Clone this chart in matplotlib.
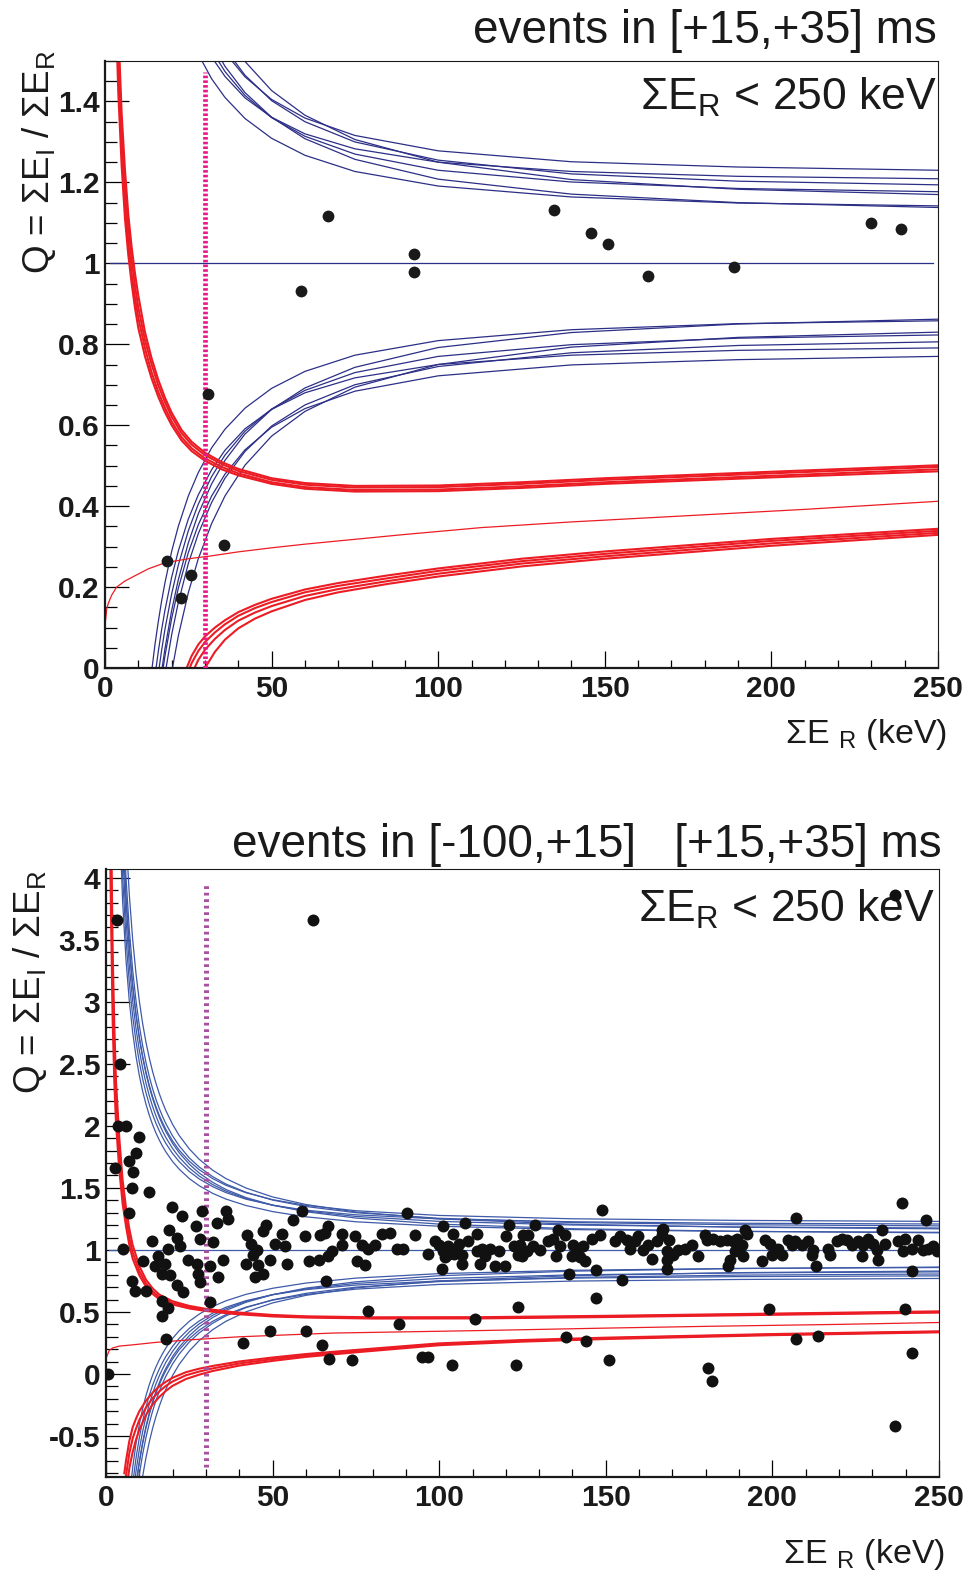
import matplotlib
matplotlib.use('Agg')
import matplotlib.pyplot as plt
from matplotlib.ticker import MultipleLocator, FuncFormatter

plt.rcParams['font.family'] = ['Liberation Sans', 'DejaVu Sans']
plt.rcParams['mathtext.fontset'] = 'custom'
plt.rcParams['mathtext.rm'] = 'Liberation Sans'
plt.rcParams['mathtext.it'] = 'Liberation Sans:italic'
plt.rcParams['mathtext.bf'] = 'Liberation Sans:bold'
plt.rcParams['axes.unicode_minus'] = False

# ---- gamma band half-widths around Q = 1 (one list per detector) ----
blue_e = [4, 5, 6, 7, 8, 9, 10, 11, 12, 13, 14, 15, 16, 17, 18, 20, 22, 25, 28,
          32, 36, 42, 50, 60, 75, 100, 140, 190, 250]
blue_dev = [
    [3.502, 2.803, 2.337, 2.004, 1.755, 1.561, 1.406, 1.279, 1.174, 1.085, 1.008, 0.942, 0.885, 0.834, 0.789,
     0.712, 0.650, 0.575, 0.517, 0.456, 0.410, 0.358, 0.309, 0.267, 0.227, 0.191, 0.164, 0.149, 0.142],
    [5.002, 4.003, 3.337, 2.861, 2.504, 2.227, 2.006, 1.824, 1.673, 1.546, 1.436, 1.342, 1.259, 1.186, 1.121,
     1.011, 0.921, 0.814, 0.730, 0.643, 0.575, 0.499, 0.427, 0.366, 0.306, 0.250, 0.207, 0.183, 0.170],
    [4.003, 3.204, 2.672, 2.292, 2.007, 1.785, 1.608, 1.464, 1.344, 1.242, 1.155, 1.079, 1.014, 0.956, 0.904,
     0.817, 0.746, 0.661, 0.595, 0.527, 0.474, 0.415, 0.360, 0.314, 0.270, 0.230, 0.201, 0.185, 0.177],
    [4.504, 3.604, 3.005, 2.578, 2.257, 2.008, 1.809, 1.646, 1.511, 1.396, 1.298, 1.213, 1.139, 1.074, 1.016,
     0.918, 0.838, 0.742, 0.668, 0.591, 0.531, 0.465, 0.402, 0.350, 0.300, 0.255, 0.221, 0.203, 0.194],
    [3.755, 3.007, 2.508, 2.152, 1.886, 1.679, 1.513, 1.378, 1.266, 1.171, 1.090, 1.020, 0.959, 0.905, 0.857,
     0.776, 0.711, 0.632, 0.572, 0.510, 0.462, 0.409, 0.361, 0.320, 0.283, 0.250, 0.227, 0.215, 0.209],
    [4.256, 3.407, 2.842, 2.439, 2.136, 1.902, 1.714, 1.561, 1.434, 1.326, 1.234, 1.154, 1.085, 1.024, 0.970,
     0.878, 0.803, 0.715, 0.646, 0.575, 0.521, 0.461, 0.405, 0.359, 0.316, 0.278, 0.251, 0.238, 0.230],
    [4.252, 3.402, 2.836, 2.432, 2.128, 1.893, 1.704, 1.550, 1.422, 1.313, 1.220, 1.140, 1.069, 1.007, 0.952,
     0.858, 0.782, 0.691, 0.619, 0.545, 0.487, 0.422, 0.361, 0.308, 0.257, 0.208, 0.171, 0.150, 0.138],
]

# ---- nuclear recoil band, top panel ----
top_nr_up_e = [3.5, 4, 5, 6, 7, 8, 9, 10, 12, 14, 16, 18, 20, 23, 26, 30, 35, 40, 50, 60, 75, 100, 125, 150, 200, 250]
top_nr_up = [
    [1.55, 1.42, 1.24, 1.11, 1.02, 0.95, 0.89, 0.84, 0.77, 0.715, 0.67, 0.632, 0.60, 0.562, 0.536, 0.512,
     0.491, 0.476, 0.455, 0.443, 0.436, 0.437, 0.445, 0.455, 0.471, 0.486],
    [1.62, 1.48, 1.29, 1.15, 1.05, 0.975, 0.915, 0.865, 0.79, 0.73, 0.682, 0.643, 0.609, 0.570, 0.543, 0.518,
     0.497, 0.481, 0.459, 0.447, 0.440, 0.441, 0.449, 0.459, 0.475, 0.491],
    [1.68, 1.53, 1.33, 1.19, 1.09, 1.01, 0.945, 0.89, 0.81, 0.75, 0.698, 0.657, 0.621, 0.580, 0.552, 0.526,
     0.504, 0.487, 0.465, 0.453, 0.446, 0.447, 0.455, 0.465, 0.481, 0.497],
    [1.74, 1.58, 1.37, 1.23, 1.12, 1.04, 0.975, 0.92, 0.83, 0.765, 0.712, 0.668, 0.631, 0.588, 0.559, 0.532,
     0.509, 0.492, 0.469, 0.457, 0.450, 0.451, 0.459, 0.469, 0.485, 0.501],
]
top_nr_low_e = [24, 26, 28, 30, 33, 36, 40, 45, 50, 60, 70, 85, 100, 125, 150, 200, 250]
top_nr_low = [
    [-0.01, 0.03, 0.058, 0.078, 0.10, 0.118, 0.138, 0.156, 0.171, 0.194, 0.21, 0.229, 0.246, 0.27, 0.288, 0.319, 0.344],
    [-0.03, 0.012, 0.042, 0.064, 0.088, 0.108, 0.129, 0.148, 0.163, 0.187, 0.203, 0.222, 0.24, 0.264, 0.282, 0.314, 0.339],
    [-0.06, -0.015, 0.02, 0.045, 0.072, 0.094, 0.117, 0.137, 0.153, 0.178, 0.195, 0.215, 0.233, 0.258, 0.276, 0.308, 0.334],
    [-0.12, -0.07, -0.03, 0.0, 0.04, 0.07, 0.098, 0.122, 0.14, 0.168, 0.187, 0.208, 0.226, 0.251, 0.27, 0.302, 0.329],
]
top_nr_mid_e = [0.2, 0.5, 1, 2, 3.5, 6, 9, 13, 18, 25, 31, 40, 50, 60, 75, 90, 113, 140, 165, 183, 210, 250]
top_nr_mid = [0.12, 0.145, 0.16, 0.18, 0.2, 0.215, 0.228, 0.245, 0.26, 0.27, 0.276, 0.287, 0.297, 0.306,
              0.318, 0.330, 0.347, 0.361, 0.372, 0.380, 0.392, 0.412]

# ---- nuclear recoil band, bottom panel ----
bot_nr_up_e = [1.2, 1.5, 2, 2.5, 3, 4, 5, 6, 7, 8, 10, 12, 14, 16, 20, 25, 30, 38, 50, 60, 80, 112, 150, 200, 250]
bot_nr_up = [
    [4.3, 3.7, 2.85, 2.35, 2.02, 1.64, 1.37, 1.19, 1.04, 0.93, 0.795, 0.705, 0.645, 0.603, 0.56, 0.528,
     0.508, 0.485, 0.464, 0.455, 0.447, 0.448, 0.459, 0.477, 0.495],
    [4.8, 4.1, 3.1, 2.55, 2.18, 1.76, 1.46, 1.26, 1.10, 0.98, 0.83, 0.73, 0.665, 0.62, 0.572, 0.538,
     0.516, 0.492, 0.47, 0.46, 0.452, 0.453, 0.464, 0.482, 0.50],
    [5.3, 4.5, 3.4, 2.8, 2.36, 1.9, 1.56, 1.34, 1.17, 1.04, 0.87, 0.76, 0.69, 0.64, 0.586, 0.549,
     0.525, 0.499, 0.476, 0.465, 0.457, 0.458, 0.469, 0.487, 0.505],
]
bot_nr_low_e = [5.5, 6, 7, 8, 9, 10, 12, 14, 16, 18, 20, 24, 28, 32, 40, 50, 60, 75, 100, 125, 150, 200, 250]
bot_nr_low = [
    [-0.80, -0.70, -0.54, -0.43, -0.36, -0.30, -0.215, -0.15, -0.10, -0.062, -0.03, 0.015, 0.043, 0.065,
     0.101, 0.133, 0.161, 0.194, 0.247, 0.274, 0.293, 0.322, 0.344],
    [-0.95, -0.82, -0.64, -0.52, -0.44, -0.37, -0.27, -0.195, -0.14, -0.095, -0.06, -0.01, 0.02, 0.045,
     0.085, 0.12, 0.15, 0.185, 0.24, 0.268, 0.288, 0.318, 0.34],
    [-1.10, -0.96, -0.76, -0.63, -0.53, -0.45, -0.33, -0.245, -0.185, -0.135, -0.095, -0.04, -0.005, 0.024,
     0.068, 0.106, 0.138, 0.175, 0.232, 0.261, 0.282, 0.313, 0.336],
]
bot_nr_mid_e = [0.2, 1, 2, 4, 8, 15, 25, 40, 68, 112, 150, 182, 220, 250]
bot_nr_mid = [0.14, 0.19, 0.21, 0.225, 0.235, 0.255, 0.275, 0.30, 0.33, 0.35, 0.37, 0.385, 0.40, 0.415]

# ---- events ----
top_er = [67.0, 92.8, 92.8, 58.9, 134.8, 146.0, 151.0, 163.0, 188.9, 230.0, 239.0,
          30.9, 35.7, 18.6, 25.8, 22.8]
top_q = [1.118, 1.022, 0.978, 0.931, 1.133, 1.076, 1.047, 0.968, 0.990, 1.099, 1.084,
         0.677, 0.304, 0.264, 0.230, 0.173]

bot_er = [0.7, 3.2, 62.2, 236.8, 4.2, 3.6, 6.0, 9.9, 8.9, 6.9, 2.7, 8.0, 7.9, 12.9, 7.0, 19.9, 22.9, 28.7,
          26.9, 18.9, 21.4, 13.9, 28.2, 32.2, 33.2, 36.0, 36.7, 5.0, 11.0, 15.7, 17.7, 14.7, 16.7, 19.2,
          18.7, 22.2, 24.7, 27.2, 27.7, 28.2, 31.2, 33.7, 35.2, 21.2, 23.2, 7.9, 8.7, 11.9, 16.9, 18.7,
          16.9, 31.2, 18.0, 42.2, 43.5, 44.2, 42.0, 45.7, 47.2, 44.7, 47.9, 47.2, 50.7, 49.2, 52.7, 53.7,
          54.2, 56.0, 59.7, 61.0, 58.9, 49.2, 59.9, 41.0, 64.9, 66.9, 73.9, 78.7, 87.9, 94.9, 96.5, 103.7,
          110.7, 90.2, 64.2, 66.7, 65.7, 70.7, 74.7, 70.7, 67.7, 66.7, 64.0, 76.7, 78.7, 80.7, 75.2, 77.7,
          82.7, 85.2, 87.4, 89.2, 92.7, 96.7, 98.7, 100.0, 101.2, 102.7, 101.7, 104.4, 106.0, 104.2, 101.0,
          107.7, 108.7, 111.3, 106.8, 100.9, 111.4, 112.2, 66.0, 102.2, 105.2, 106.7, 45.2,
          112.7, 115.2, 113.7, 116.7, 119.7, 118.0, 120.0, 121.0, 122.4, 124.2, 123.7, 125.2, 124.7, 123.7,
          148.8, 128.8, 135.8, 126.7, 128.3, 130.3, 126.3, 132.7, 134.3, 137.8, 136.3, 135.1, 140.3, 141.8,
          143.2, 139.8, 142.3, 143.8, 145.8, 148.3, 139.1, 147.1, 147.1, 155.0, 152.8, 154.3, 156.3, 157.3,
          158.8, 159.8, 161.3, 162.8, 163.8, 165.3, 166.8, 167.3, 169.1, 168.3, 168.3, 170.3, 171.8, 173.8,
          175.8, 177.8, 179.8, 180.3, 182.3, 184.3, 186.3, 188.3, 187.3, 168.3, 207.0, 238.8, 246.0, 233.0,
          191.8, 189.3, 190.8, 188.8, 191.3, 197.8, 199.3, 199.8, 202.8, 201.8, 197.0, 204.8, 206.8, 205.8,
          208.8, 210.8, 211.8, 212.3, 213.0, 216.8, 217.3, 219.3, 220.8, 222.3, 223.8, 225.8, 227.3, 226.8,
          228.8, 230.3, 231.3, 231.8, 233.8, 237.8, 239.8, 239.3, 241.8, 243.8, 245.3, 246.8, 248.3, 249.3,
          241.8, 199.0, 239.8, 138.0, 144.0, 123.0, 151.0, 180.8, 182.0, 207.0, 213.8, 236.8, 241.8, 186.8,
          166.8, 192.3]
bot_q = [0.00, 3.66, 3.66, 3.86, 2.50, 2.00, 2.00, 1.91, 1.78, 1.72, 1.66, 1.63, 1.50, 1.47, 1.30, 1.35, 1.27, 1.31,
         1.19, 1.16, 1.10, 1.07, 1.09, 1.06, 1.22, 1.31, 1.25, 1.01, 0.91, 0.95, 0.89, 0.87, 0.81, 0.80,
         1.01, 1.03, 0.92, 0.89, 0.81, 0.74, 0.87, 0.78, 0.92, 0.72, 0.66, 0.75, 0.67, 0.67, 0.59, 0.53,
         0.47, 0.58, 0.28, 1.12, 1.05, 0.96, 0.89, 0.88, 0.81, 0.78, 1.20, 1.15, 1.05, 0.92, 1.13, 1.03,
         0.89, 1.24, 1.11, 0.91, 1.31, 0.35, 0.35, 0.25, 0.23, 0.12, 0.11, 0.51, 0.40, 0.14, 0.14, 0.07,
         0.44, 1.30, 1.12, 1.19, 1.14, 1.13, 1.11, 1.04, 0.99, 0.95, 0.92, 1.04, 1.01, 1.04, 0.91, 0.88,
         1.13, 1.14, 1.01, 1.01, 1.12, 0.97, 1.07, 1.04, 0.99, 1.03, 0.94, 0.97, 1.05, 1.13, 1.19,
         1.22, 1.07, 1.13, 0.89, 0.85, 0.99, 0.89, 0.75, 0.96, 0.99, 0.96, 1.00,
         1.01, 1.01, 0.95, 0.87, 0.87, 0.99, 1.11, 1.20, 1.03, 1.04, 0.96, 1.12, 0.95, 0.54,
         1.32, 1.20, 1.16, 1.12, 1.03, 1.00, 0.99, 1.07, 1.09, 1.12, 1.03, 0.95, 1.04, 1.01,
         1.03, 0.95, 0.94, 0.91, 1.09, 1.12, 0.81, 0.84, 0.61, 0.76, 1.07, 1.11, 1.08, 1.01,
         1.07, 1.11, 1.00, 1.04, 0.93, 1.07, 1.12, 1.17, 1.08, 0.99, 0.92, 0.96, 1.00, 1.01,
         1.04, 0.95, 1.12, 1.08, 1.09, 1.07, 1.08, 1.07, 0.92, 0.85, 1.26, 1.38, 1.24, 1.16,
         1.16, 1.09, 1.04, 0.99, 0.95, 1.08, 1.05, 0.96, 0.96, 1.01, 0.91, 1.08, 1.07, 1.04,
         1.04, 1.07, 0.96, 1.00, 0.87, 1.01, 0.96, 1.07, 1.09, 1.08, 1.04, 1.07, 1.04, 0.95,
         1.09, 1.05, 1.00, 0.92, 1.05, 1.07, 1.09, 0.99, 1.01, 1.08, 1.00, 1.01, 1.03, 0.99,
         0.83, 0.52, 0.52, 0.30, 0.27, 0.07, 0.11, 0.05, -0.06, 0.28, 0.31, -0.42, 0.17, 0.87,
         1.16, 1.13]

cut_energy = 30

NAVY = '#2c2f86'
ROYAL = '#3e5aa8'
RED = '#ec1c24'


def style_axes(ax, ymin, ymax, ymajor, yminor):
    ax.set_xlim(0, 250)
    ax.set_ylim(ymin, ymax)
    ax.xaxis.set_major_locator(MultipleLocator(50))
    ax.xaxis.set_minor_locator(MultipleLocator(10))
    ax.yaxis.set_major_locator(MultipleLocator(ymajor))
    ax.yaxis.set_minor_locator(MultipleLocator(yminor))
    fmt = FuncFormatter(lambda v, p: '{:g}'.format(round(v, 3)))
    ax.xaxis.set_major_formatter(fmt)
    ax.yaxis.set_major_formatter(fmt)
    ax.tick_params(axis='x', which='major', direction='in', length=12.5, width=0.9,
                   labelsize=21.5, pad=5, top=False)
    ax.tick_params(axis='x', which='minor', direction='in', length=6, width=0.9, top=False)
    ax.tick_params(axis='y', which='major', direction='in', length=17.5, width=0.9,
                   labelsize=21.5, pad=4, right=False)
    ax.tick_params(axis='y', which='minor', direction='in', length=8.5, width=0.9, right=False)
    for lab in ax.get_xticklabels() + ax.get_yticklabels():
        lab.set_fontweight('bold')
        lab.set_color('#1a1a1a')
    ax.spines['left'].set_linewidth(1.6)
    ax.spines['bottom'].set_linewidth(1.6)
    ax.spines['top'].set_linewidth(0.8)
    ax.spines['right'].set_linewidth(0.8)
    for s in ax.spines.values():
        s.set_color('#1a1a1a')


fig = plt.figure(figsize=(9.65, 15.75), dpi=100)
W, H = 965.0, 1575.0
ax1 = fig.add_axes([105 / W, 1 - 668 / H, 833 / W, 607 / H])
ax2 = fig.add_axes([106 / W, 1 - 1477 / H, 833 / W, 608 / H])

# ---------------- top panel ----------------
for dev in blue_dev:
    ax1.plot(blue_e, [1 + d for d in dev], color=NAVY, lw=0.9, zorder=2)
    ax1.plot(blue_e, [1 - d for d in dev], color=NAVY, lw=0.9, zorder=2)
ax1.plot([1.5, 248.5], [1, 1], color=NAVY, lw=0.9, zorder=2)
for q in top_nr_up:
    ax1.plot(top_nr_up_e, q, color=RED, lw=1.5, zorder=2)
for q in top_nr_low:
    ax1.plot(top_nr_low_e, q, color=RED, lw=1.5, zorder=2)
ax1.plot(top_nr_mid_e, top_nr_mid, color=RED, lw=0.9, zorder=2)
ax1.plot([cut_energy, cut_energy], [0, 1.474], color='#e8198b', lw=3.4,
         dashes=(0.55, 0.45), zorder=3)
ax1.plot(top_er, top_q, 'o', color='#1a1a1a', ms=8.5, mew=0, zorder=5)
style_axes(ax1, 0, 1.5, 0.2, 0.05)
ax1.text(937 / W, 1 - 110 / H, 'ΣE$_\\mathrm{R}$ < 250 keV', transform=fig.transFigure,
         ha='right', va='baseline', fontsize=32, color='#1a1a1a', zorder=4)

# ---------------- bottom panel ----------------
for dev in blue_dev:
    ax2.plot(blue_e, [1 + d for d in dev], color=ROYAL, lw=0.9, zorder=2)
    ax2.plot(blue_e, [1 - d for d in dev], color=ROYAL, lw=0.9, zorder=2)
ax2.plot([1, 250], [1, 1], color=ROYAL, lw=0.9, zorder=2)
for q in bot_nr_up:
    ax2.plot(bot_nr_up_e, q, color=RED, lw=1.5, zorder=2)
for q in bot_nr_low:
    ax2.plot(bot_nr_low_e, q, color=RED, lw=1.5, zorder=2)
ax2.plot(bot_nr_mid_e, bot_nr_mid, color=RED, lw=0.9, zorder=2)
ax2.plot([cut_energy, cut_energy], [-0.75, 3.96], color='#a9519f', lw=3.6,
         dashes=(0.55, 0.75), zorder=3)
style_axes(ax2, -0.83, 4.07, 0.5, 0.1)
ax2.text(935 / W, 1 - 922 / H, 'ΣE$_\\mathrm{R}$ < 250 keV', transform=fig.transFigure,
         ha='right', va='baseline', fontsize=32, color='#1a1a1a', zorder=4)
ax2.plot(bot_er, bot_q, 'o', color='#111111', ms=8.6, mew=0, zorder=5)

# ---------------- titles and axis titles ----------------
fig.text(937 / W, 1 - 43 / H, 'events in [+15,+35] ms', ha='right', va='baseline',
         fontsize=33, color='#1a1a1a')
fig.text(942 / W, 1 - 857 / H, 'events in [-100,+15]   [+15,+35] ms', ha='right',
         va='baseline', fontsize=33, color='#1a1a1a')

xlab = 'ΣE $_\\mathrm{R}$ (keV)'
fig.text(947 / W, 1 - 743 / H, xlab, ha='right', va='baseline', fontsize=24.5, color='#1a1a1a')
fig.text(945 / W, 1 - 1563 / H, xlab, ha='right', va='baseline', fontsize=24.5, color='#1a1a1a')

ylab = 'Q = ΣE$_\\mathrm{I}$ / ΣE$_\\mathrm{R}$'
fig.text(39 / W, 1 - 50 / H, ylab, rotation=90, ha='center', va='top', fontsize=26.5, color='#1a1a1a')
fig.text(30 / W, 1 - 870 / H, ylab, rotation=90, ha='center', va='top', fontsize=26.5, color='#1a1a1a')

fig.savefig('out.png', dpi=100)
